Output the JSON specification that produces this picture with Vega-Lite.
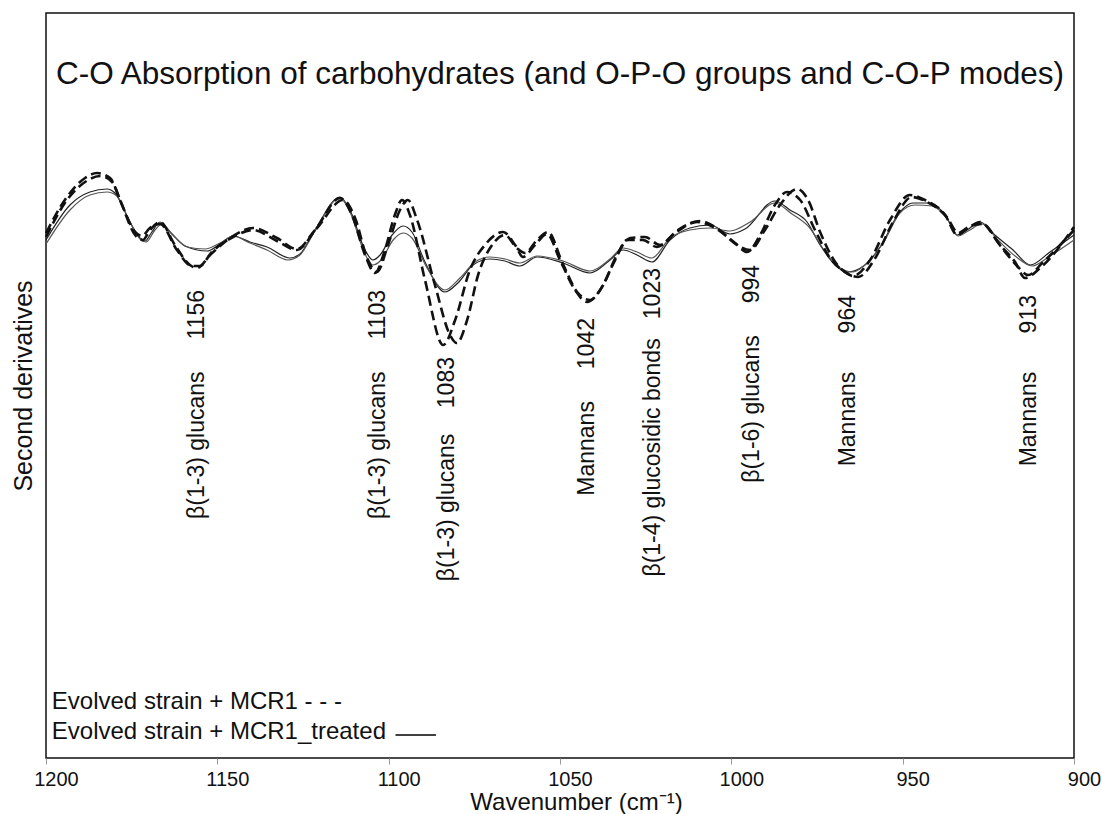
{
  "$schema": "https://vega.github.io/schema/vega-lite/v6.json",
  "width": 1028,
  "height": 745,
  "autosize": {"type": "none"},
  "padding": {"left": 46, "top": 13, "right": 28, "bottom": 56},
  "background": "white",
  "config": {
    "font": "Liberation Sans",
    "view": {"stroke": "#111", "strokeWidth": 1.5},
    "text": {"font": "Liberation Sans", "color": "#111"}
  },
  "title": {
    "text": "C-O Absorption of carbohydrates (and O-P-O groups and C-O-P modes)",
    "font": "Liberation Sans",
    "fontSize": 31.5,
    "fontWeight": "normal",
    "color": "#111",
    "anchor": "middle",
    "frame": "group",
    "baseline": "middle",
    "offset": -93
  },
  "datasets": {
    "dashed": [
      {"series": "MCR1 a", "wn": 1200, "v": -0.07}, {"series": "MCR1 a", "wn": 1194.5, "v": 0.26}, {"series": "MCR1 a", "wn": 1188.6, "v": 0.48}, {"series": "MCR1 a", "wn": 1185.1, "v": 0.53}, {"series": "MCR1 a", "wn": 1181.3, "v": 0.48}, {"series": "MCR1 a", "wn": 1178.4, "v": 0.26}, {"series": "MCR1 a", "wn": 1174.0, "v": -0.09}, {"series": "MCR1 a", "wn": 1171.7, "v": -0.14}, {"series": "MCR1 a", "wn": 1170.5, "v": -0.09}, {"series": "MCR1 a", "wn": 1169.1, "v": -0.02}, {"series": "MCR1 a", "wn": 1166.7, "v": 0.04}, {"series": "MCR1 a", "wn": 1162.4, "v": -0.19}, {"series": "MCR1 a", "wn": 1158.0, "v": -0.39}, {"series": "MCR1 a", "wn": 1155.9, "v": -0.42}, {"series": "MCR1 a", "wn": 1152.1, "v": -0.29}, {"series": "MCR1 a", "wn": 1145.4, "v": -0.10}, {"series": "MCR1 a", "wn": 1139.6, "v": -0.02}, {"series": "MCR1 a", "wn": 1132.6, "v": -0.12}, {"series": "MCR1 a", "wn": 1126.8, "v": -0.23}, {"series": "MCR1 a", "wn": 1121.5, "v": -0.04}, {"series": "MCR1 a", "wn": 1114.2, "v": 0.28}, {"series": "MCR1 a", "wn": 1110.7, "v": 0.11}, {"series": "MCR1 a", "wn": 1106.9, "v": -0.29}, {"series": "MCR1 a", "wn": 1104.0, "v": -0.47}, {"series": "MCR1 a", "wn": 1101.1, "v": -0.24}, {"series": "MCR1 a", "wn": 1098.2, "v": 0.11}, {"series": "MCR1 a", "wn": 1096.1, "v": 0.26}, {"series": "MCR1 a", "wn": 1093.8, "v": 0.11}, {"series": "MCR1 a", "wn": 1089.4, "v": -0.54}, {"series": "MCR1 a", "wn": 1084.1, "v": -1.19}, {"series": "MCR1 a", "wn": 1080.6, "v": -0.94}, {"series": "MCR1 a", "wn": 1076.3, "v": -0.44}, {"series": "MCR1 a", "wn": 1071.9, "v": -0.19}, {"series": "MCR1 a", "wn": 1066.6, "v": -0.06}, {"series": "MCR1 a", "wn": 1063.1, "v": -0.19}, {"series": "MCR1 a", "wn": 1060.8, "v": -0.31}, {"series": "MCR1 a", "wn": 1057.3, "v": -0.19}, {"series": "MCR1 a", "wn": 1053.8, "v": -0.08}, {"series": "MCR1 a", "wn": 1050.0, "v": -0.34}, {"series": "MCR1 a", "wn": 1045.6, "v": -0.64}, {"series": "MCR1 a", "wn": 1042.1, "v": -0.76}, {"series": "MCR1 a", "wn": 1038.3, "v": -0.64}, {"series": "MCR1 a", "wn": 1033.9, "v": -0.34}, {"series": "MCR1 a", "wn": 1030.4, "v": -0.14}, {"series": "MCR1 a", "wn": 1025.8, "v": -0.14}, {"series": "MCR1 a", "wn": 1021.7, "v": -0.21}, {"series": "MCR1 a", "wn": 1016.4, "v": -0.07}, {"series": "MCR1 a", "wn": 1010.0, "v": 0.04}, {"series": "MCR1 a", "wn": 1004.8, "v": -0.02}, {"series": "MCR1 a", "wn": 998.9, "v": -0.17}, {"series": "MCR1 a", "wn": 995.4, "v": -0.26}, {"series": "MCR1 a", "wn": 991.6, "v": -0.09}, {"series": "MCR1 a", "wn": 987.3, "v": 0.21}, {"series": "MCR1 a", "wn": 983.8, "v": 0.34}, {"series": "MCR1 a", "wn": 979.9, "v": 0.26}, {"series": "MCR1 a", "wn": 975.6, "v": -0.04}, {"series": "MCR1 a", "wn": 971.2, "v": -0.32}, {"series": "MCR1 a", "wn": 966.8, "v": -0.46}, {"series": "MCR1 a", "wn": 964.5, "v": -0.50}, {"series": "MCR1 a", "wn": 959.5, "v": -0.34}, {"series": "MCR1 a", "wn": 953.7, "v": 0.06}, {"series": "MCR1 a", "wn": 947.9, "v": 0.31}, {"series": "MCR1 a", "wn": 943.5, "v": 0.26}, {"series": "MCR1 a", "wn": 937.6, "v": 0.11}, {"series": "MCR1 a", "wn": 934.1, "v": -0.09}, {"series": "MCR1 a", "wn": 930.9, "v": -0.02}, {"series": "MCR1 a", "wn": 927.4, "v": 0.04}, {"series": "MCR1 a", "wn": 921.6, "v": -0.19}, {"series": "MCR1 a", "wn": 917.2, "v": -0.36}, {"series": "MCR1 a", "wn": 914.3, "v": -0.52}, {"series": "MCR1 a", "wn": 909.9, "v": -0.42}, {"series": "MCR1 a", "wn": 900.0, "v": -0.01},
      {"series": "MCR1 b", "wn": 1200, "v": -0.11}, {"series": "MCR1 b", "wn": 1194.5, "v": 0.23}, {"series": "MCR1 b", "wn": 1188.6, "v": 0.44}, {"series": "MCR1 b", "wn": 1184.2, "v": 0.50}, {"series": "MCR1 b", "wn": 1180.7, "v": 0.44}, {"series": "MCR1 b", "wn": 1177.8, "v": 0.21}, {"series": "MCR1 b", "wn": 1174.0, "v": -0.06}, {"series": "MCR1 b", "wn": 1172.0, "v": -0.10}, {"series": "MCR1 b", "wn": 1169.7, "v": -0.02}, {"series": "MCR1 b", "wn": 1166.7, "v": 0.02}, {"series": "MCR1 b", "wn": 1161.8, "v": -0.24}, {"series": "MCR1 b", "wn": 1157.4, "v": -0.40}, {"series": "MCR1 b", "wn": 1155.1, "v": -0.40}, {"series": "MCR1 b", "wn": 1151.6, "v": -0.26}, {"series": "MCR1 b", "wn": 1145.4, "v": -0.11}, {"series": "MCR1 b", "wn": 1139.6, "v": -0.04}, {"series": "MCR1 b", "wn": 1132.6, "v": -0.15}, {"series": "MCR1 b", "wn": 1126.8, "v": -0.24}, {"series": "MCR1 b", "wn": 1120.9, "v": -0.02}, {"series": "MCR1 b", "wn": 1113.3, "v": 0.26}, {"series": "MCR1 b", "wn": 1109.8, "v": 0.08}, {"series": "MCR1 b", "wn": 1106.3, "v": -0.32}, {"series": "MCR1 b", "wn": 1103.4, "v": -0.46}, {"series": "MCR1 b", "wn": 1100.2, "v": -0.19}, {"series": "MCR1 b", "wn": 1096.7, "v": 0.16}, {"series": "MCR1 b", "wn": 1094.4, "v": 0.26}, {"series": "MCR1 b", "wn": 1091.7, "v": 0.06}, {"series": "MCR1 b", "wn": 1086.5, "v": -0.59}, {"series": "MCR1 b", "wn": 1082.1, "v": -1.09}, {"series": "MCR1 b", "wn": 1080.1, "v": -1.17}, {"series": "MCR1 b", "wn": 1077.1, "v": -0.94}, {"series": "MCR1 b", "wn": 1073.9, "v": -0.49}, {"series": "MCR1 b", "wn": 1069.8, "v": -0.19}, {"series": "MCR1 b", "wn": 1066.1, "v": -0.09}, {"series": "MCR1 b", "wn": 1062.6, "v": -0.22}, {"series": "MCR1 b", "wn": 1060.2, "v": -0.27}, {"series": "MCR1 b", "wn": 1056.7, "v": -0.14}, {"series": "MCR1 b", "wn": 1053.5, "v": -0.06}, {"series": "MCR1 b", "wn": 1049.4, "v": -0.36}, {"series": "MCR1 b", "wn": 1045.0, "v": -0.66}, {"series": "MCR1 b", "wn": 1041.2, "v": -0.74}, {"series": "MCR1 b", "wn": 1037.4, "v": -0.59}, {"series": "MCR1 b", "wn": 1033.4, "v": -0.29}, {"series": "MCR1 b", "wn": 1029.5, "v": -0.12}, {"series": "MCR1 b", "wn": 1025.2, "v": -0.11}, {"series": "MCR1 b", "wn": 1020.8, "v": -0.19}, {"series": "MCR1 b", "wn": 1015.6, "v": -0.04}, {"series": "MCR1 b", "wn": 1009.1, "v": 0.05}, {"series": "MCR1 b", "wn": 1003.9, "v": -0.03}, {"series": "MCR1 b", "wn": 998.3, "v": -0.19}, {"series": "MCR1 b", "wn": 994.5, "v": -0.24}, {"series": "MCR1 b", "wn": 990.2, "v": -0.04}, {"series": "MCR1 b", "wn": 985.8, "v": 0.21}, {"series": "MCR1 b", "wn": 980.8, "v": 0.37}, {"series": "MCR1 b", "wn": 977.6, "v": 0.26}, {"series": "MCR1 b", "wn": 974.1, "v": -0.06}, {"series": "MCR1 b", "wn": 969.7, "v": -0.36}, {"series": "MCR1 b", "wn": 965.3, "v": -0.49}, {"series": "MCR1 b", "wn": 963.0, "v": -0.51}, {"series": "MCR1 b", "wn": 958.0, "v": -0.32}, {"series": "MCR1 b", "wn": 952.8, "v": 0.04}, {"series": "MCR1 b", "wn": 947.3, "v": 0.29}, {"series": "MCR1 b", "wn": 942.9, "v": 0.24}, {"series": "MCR1 b", "wn": 937.1, "v": 0.09}, {"series": "MCR1 b", "wn": 933.8, "v": -0.07}, {"series": "MCR1 b", "wn": 930.3, "v": 0.00}, {"series": "MCR1 b", "wn": 926.8, "v": 0.02}, {"series": "MCR1 b", "wn": 921.0, "v": -0.22}, {"series": "MCR1 b", "wn": 916.6, "v": -0.40}, {"series": "MCR1 b", "wn": 913.4, "v": -0.49}, {"series": "MCR1 b", "wn": 909.0, "v": -0.36}, {"series": "MCR1 b", "wn": 900.0, "v": -0.04}
    ],
    "solid": [
      {"series": "treated a", "wn": 1200, "v": -0.14}, {"series": "treated a", "wn": 1193.0, "v": 0.21}, {"series": "treated a", "wn": 1187.2, "v": 0.34}, {"series": "treated a", "wn": 1182.2, "v": 0.37}, {"series": "treated a", "wn": 1179.9, "v": 0.33}, {"series": "treated a", "wn": 1175.5, "v": 0.04}, {"series": "treated a", "wn": 1172.6, "v": -0.12}, {"series": "treated a", "wn": 1171.1, "v": -0.15}, {"series": "treated a", "wn": 1169.1, "v": -0.06}, {"series": "treated a", "wn": 1166.7, "v": 0.04}, {"series": "treated a", "wn": 1163.8, "v": -0.06}, {"series": "treated a", "wn": 1159.4, "v": -0.20}, {"series": "treated a", "wn": 1153.0, "v": -0.25}, {"series": "treated a", "wn": 1149.2, "v": -0.18}, {"series": "treated a", "wn": 1145.4, "v": -0.10}, {"series": "treated a", "wn": 1140.5, "v": -0.16}, {"series": "treated a", "wn": 1135.5, "v": -0.21}, {"series": "treated a", "wn": 1128.8, "v": -0.32}, {"series": "treated a", "wn": 1125.9, "v": -0.28}, {"series": "treated a", "wn": 1121.5, "v": -0.04}, {"series": "treated a", "wn": 1114.2, "v": 0.29}, {"series": "treated a", "wn": 1111.3, "v": 0.16}, {"series": "treated a", "wn": 1106.9, "v": -0.24}, {"series": "treated a", "wn": 1104.6, "v": -0.34}, {"series": "treated a", "wn": 1102.5, "v": -0.29}, {"series": "treated a", "wn": 1099.0, "v": -0.09}, {"series": "treated a", "wn": 1095.8, "v": 0.00}, {"series": "treated a", "wn": 1093.2, "v": -0.06}, {"series": "treated a", "wn": 1089.4, "v": -0.36}, {"series": "treated a", "wn": 1083.6, "v": -0.66}, {"series": "treated a", "wn": 1079.8, "v": -0.57}, {"series": "treated a", "wn": 1075.4, "v": -0.39}, {"series": "treated a", "wn": 1070.4, "v": -0.33}, {"series": "treated a", "wn": 1066.1, "v": -0.35}, {"series": "treated a", "wn": 1061.7, "v": -0.40}, {"series": "treated a", "wn": 1056.7, "v": -0.31}, {"series": "treated a", "wn": 1049.1, "v": -0.37}, {"series": "treated a", "wn": 1041.2, "v": -0.47}, {"series": "treated a", "wn": 1035.4, "v": -0.34}, {"series": "treated a", "wn": 1031.6, "v": -0.24}, {"series": "treated a", "wn": 1027.5, "v": -0.29}, {"series": "treated a", "wn": 1023.2, "v": -0.36}, {"series": "treated a", "wn": 1017.9, "v": -0.14}, {"series": "treated a", "wn": 1012.1, "v": -0.02}, {"series": "treated a", "wn": 1006.2, "v": 0.01}, {"series": "treated a", "wn": 1000.4, "v": -0.08}, {"series": "treated a", "wn": 996.0, "v": -0.03}, {"series": "treated a", "wn": 987.3, "v": 0.25}, {"series": "treated a", "wn": 982.9, "v": 0.16}, {"series": "treated a", "wn": 977.9, "v": 0.04}, {"series": "treated a", "wn": 974.1, "v": -0.19}, {"series": "treated a", "wn": 969.7, "v": -0.39}, {"series": "treated a", "wn": 966.2, "v": -0.46}, {"series": "treated a", "wn": 961.0, "v": -0.39}, {"series": "treated a", "wn": 956.6, "v": -0.21}, {"series": "treated a", "wn": 950.8, "v": 0.14}, {"series": "treated a", "wn": 947.0, "v": 0.23}, {"series": "treated a", "wn": 942.0, "v": 0.23}, {"series": "treated a", "wn": 937.1, "v": 0.08}, {"series": "treated a", "wn": 934.1, "v": -0.09}, {"series": "treated a", "wn": 931.2, "v": -0.04}, {"series": "treated a", "wn": 927.4, "v": 0.04}, {"series": "treated a", "wn": 923.1, "v": -0.09}, {"series": "treated a", "wn": 917.8, "v": -0.24}, {"series": "treated a", "wn": 912.8, "v": -0.39}, {"series": "treated a", "wn": 907.0, "v": -0.26}, {"series": "treated a", "wn": 900.0, "v": -0.09},
      {"series": "treated b", "wn": 1200, "v": -0.18}, {"series": "treated b", "wn": 1193.0, "v": 0.16}, {"series": "treated b", "wn": 1187.2, "v": 0.31}, {"series": "treated b", "wn": 1182.2, "v": 0.34}, {"series": "treated b", "wn": 1179.3, "v": 0.30}, {"series": "treated b", "wn": 1175.5, "v": 0.04}, {"series": "treated b", "wn": 1172.3, "v": -0.14}, {"series": "treated b", "wn": 1170.8, "v": -0.16}, {"series": "treated b", "wn": 1168.2, "v": -0.04}, {"series": "treated b", "wn": 1166.1, "v": 0.02}, {"series": "treated b", "wn": 1163.2, "v": -0.08}, {"series": "treated b", "wn": 1158.8, "v": -0.21}, {"series": "treated b", "wn": 1153.6, "v": -0.23}, {"series": "treated b", "wn": 1149.2, "v": -0.17}, {"series": "treated b", "wn": 1145.4, "v": -0.10}, {"series": "treated b", "wn": 1140.5, "v": -0.17}, {"series": "treated b", "wn": 1135.5, "v": -0.24}, {"series": "treated b", "wn": 1129.4, "v": -0.34}, {"series": "treated b", "wn": 1125.9, "v": -0.29}, {"series": "treated b", "wn": 1121.5, "v": -0.05}, {"series": "treated b", "wn": 1114.2, "v": 0.28}, {"series": "treated b", "wn": 1111.3, "v": 0.14}, {"series": "treated b", "wn": 1106.9, "v": -0.28}, {"series": "treated b", "wn": 1104.6, "v": -0.39}, {"series": "treated b", "wn": 1102.2, "v": -0.34}, {"series": "treated b", "wn": 1098.7, "v": -0.14}, {"series": "treated b", "wn": 1095.8, "v": -0.07}, {"series": "treated b", "wn": 1093.2, "v": -0.12}, {"series": "treated b", "wn": 1088.8, "v": -0.42}, {"series": "treated b", "wn": 1083.6, "v": -0.64}, {"series": "treated b", "wn": 1079.2, "v": -0.52}, {"series": "treated b", "wn": 1074.8, "v": -0.36}, {"series": "treated b", "wn": 1070.4, "v": -0.31}, {"series": "treated b", "wn": 1066.1, "v": -0.33}, {"series": "treated b", "wn": 1061.7, "v": -0.37}, {"series": "treated b", "wn": 1056.7, "v": -0.30}, {"series": "treated b", "wn": 1049.1, "v": -0.35}, {"series": "treated b", "wn": 1041.2, "v": -0.45}, {"series": "treated b", "wn": 1035.4, "v": -0.33}, {"series": "treated b", "wn": 1031.6, "v": -0.22}, {"series": "treated b", "wn": 1027.5, "v": -0.26}, {"series": "treated b", "wn": 1023.2, "v": -0.32}, {"series": "treated b", "wn": 1017.9, "v": -0.12}, {"series": "treated b", "wn": 1012.1, "v": -0.04}, {"series": "treated b", "wn": 1006.2, "v": -0.02}, {"series": "treated b", "wn": 1000.4, "v": -0.05}, {"series": "treated b", "wn": 994.5, "v": 0.04}, {"series": "treated b", "wn": 987.3, "v": 0.23}, {"series": "treated b", "wn": 982.3, "v": 0.12}, {"series": "treated b", "wn": 977.1, "v": -0.02}, {"series": "treated b", "wn": 972.6, "v": -0.26}, {"series": "treated b", "wn": 968.2, "v": -0.42}, {"series": "treated b", "wn": 964.5, "v": -0.46}, {"series": "treated b", "wn": 960.1, "v": -0.36}, {"series": "treated b", "wn": 955.7, "v": -0.17}, {"series": "treated b", "wn": 950.8, "v": 0.13}, {"series": "treated b", "wn": 946.4, "v": 0.21}, {"series": "treated b", "wn": 941.4, "v": 0.20}, {"series": "treated b", "wn": 936.8, "v": 0.06}, {"series": "treated b", "wn": 933.8, "v": -0.10}, {"series": "treated b", "wn": 930.9, "v": -0.05}, {"series": "treated b", "wn": 926.8, "v": 0.02}, {"series": "treated b", "wn": 922.2, "v": -0.14}, {"series": "treated b", "wn": 917.2, "v": -0.30}, {"series": "treated b", "wn": 912.2, "v": -0.40}, {"series": "treated b", "wn": 907.0, "v": -0.30}, {"series": "treated b", "wn": 900.0, "v": -0.14}
    ],
    "bands": [
      {"wn": 1156, "v": -0.64, "label": "β(1-3) glucans\u00a0\u00a0\u00a0\u00a0 1156"},
      {"wn": 1103, "v": -0.64, "label": "β(1-3) glucans\u00a0\u00a0\u00a0\u00a0 1103"},
      {"wn": 1083, "v": -1.31, "label": "β(1-3) glucans\u00a0\u00a0\u00a0 1083"},
      {"wn": 1042, "v": -0.92, "label": "Mannans\u00a0\u00a0\u00a0\u00a0 1042"},
      {"wn": 1023, "v": -0.42, "label": "β(1-4) glucosidic bonds\u00a0\u00a0 1023"},
      {"wn": 994, "v": -0.39, "label": "β(1-6) glucans\u00a0\u00a0\u00a0\u00a0 994"},
      {"wn": 966, "v": -0.69, "label": "Mannans\u00a0\u00a0\u00a0\u00a0\u00a0 964"},
      {"wn": 913, "v": -0.69, "label": "Mannans\u00a0\u00a0\u00a0\u00a0\u00a0 913"}
    ],
    "key": [
      {"wn": 1198.3, "v": -4.76, "label": "Evolved strain + MCR1 - - -"},
      {"wn": 1198.3, "v": -5.06, "label": "Evolved strain + MCR1_treated"}
    ],
    "keyLine": [
      {"wn": 1098.0, "wn2": 1086.2, "v": -5.09}
    ]
  },
  "encoding": {
    "x": {
      "field": "wn",
      "type": "quantitative",
      "scale": {"domain": [900, 1200], "reverse": true, "nice": false, "zero": false},
      "axis": {
        "title": "Wavenumber (cm⁻¹)",
        "values": [900, 950, 1000, 1050, 1100, 1150, 1200],
        "format": "d",
        "grid": false,
        "domain": false,
        "ticks": true,
        "tickColor": "#999",
        "tickSize": 6,
        "labelFlush": false,
        "labelFont": "Liberation Sans",
        "labelFontSize": 20,
        "labelColor": "#111",
        "labelPadding": 5,
        "labelOffset": 10,
        "titleFont": "Liberation Sans",
        "titleFontSize": 24,
        "titleFontWeight": "normal",
        "titleColor": "#111",
        "titlePadding": 1,
        "titleX": 530
      }
    },
    "y": {
      "field": "v",
      "type": "quantitative",
      "scale": {"domain": [-5.32, 2.13], "nice": false, "zero": false},
      "axis": {
        "title": "Second derivatives",
        "labels": false,
        "ticks": false,
        "domain": false,
        "grid": false,
        "titleFont": "Liberation Sans",
        "titleFontSize": 25,
        "titleFontWeight": "normal",
        "titleColor": "#111",
        "titlePadding": 10
      }
    }
  },
  "layer": [
    {
      "data": {"name": "solid"},
      "mark": {"type": "line", "interpolate": "monotone", "strokeWidth": 1.2},
      "encoding": {
        "detail": {"field": "series"},
        "color": {"field": "series", "type": "nominal", "scale": {"domain": ["treated a", "treated b"], "range": ["#222222", "#555555"]}, "legend": null}
      }
    },
    {
      "data": {"name": "dashed"},
      "mark": {"type": "line", "interpolate": "monotone", "strokeWidth": 2.6, "strokeDash": [10, 5], "color": "#111"},
      "encoding": {"detail": {"field": "series"}}
    },
    {
      "data": {"name": "bands"},
      "mark": {"type": "text", "angle": 270, "align": "right", "baseline": "middle", "fontSize": 23, "font": "Liberation Sans", "color": "#111"},
      "encoding": {"text": {"field": "label"}}
    },
    {
      "data": {"name": "key"},
      "mark": {"type": "text", "align": "left", "baseline": "middle", "fontSize": 24, "font": "Liberation Sans", "color": "#111"},
      "encoding": {"text": {"field": "label"}}
    },
    {
      "data": {"name": "keyLine"},
      "mark": {"type": "rule", "color": "#000", "strokeWidth": 1.4},
      "encoding": {"x2": {"field": "wn2"}}
    }
  ]
}
